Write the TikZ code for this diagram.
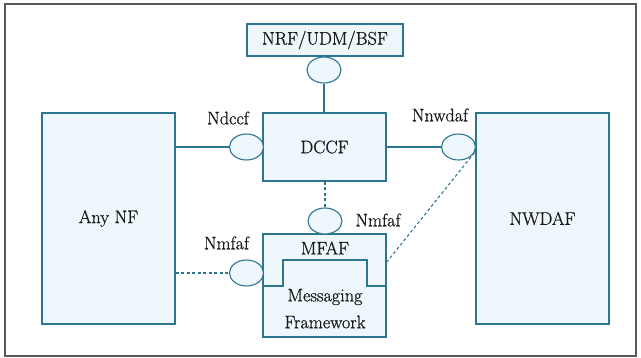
\documentclass[tikz,border=0pt]{standalone}
\usetikzlibrary{shapes.geometric}
\definecolor{edge}{RGB}{45,118,145}
\definecolor{boxfill}{RGB}{238,247,252}
\definecolor{txt}{RGB}{25,25,25}
\tikzset{
  nfbox/.style={draw=edge, fill=boxfill, line width=1.1pt, rectangle, inner sep=0pt, text=txt},
  port/.style={draw=edge, fill=boxfill, line width=1.1pt, ellipse, minimum width=34pt, minimum height=26pt, inner sep=0pt},
  conn/.style={draw=edge, line width=1.1pt},
  dconn/.style={draw=edge, line width=1.1pt, dash pattern=on 3pt off 2.5pt},
  lbl/.style={text=txt, inner sep=0pt},
}
\begin{document}
\begin{tikzpicture}[x=1pt,y=-1pt, font=\fontsize{18.2}{20}\selectfont\special{pdf:literal direct 2 Tr 0.15 w}]
\useasboundingbox (0,0) rectangle (641,357);
\draw[draw=black!65, line width=1.3pt] (5,4) rectangle (636,356);
% boxes
\node[nfbox, minimum width=133pt, minimum height=211pt] (anynf) at (108.5,218.5) {Any NF};
\node[nfbox, minimum width=156pt, minimum height=32pt] (nrf) at (325,40) {NRF/UDM/BSF};
\node[nfbox, minimum width=123pt, minimum height=68pt] (dccf) at (324.5,147) {DCCF};
\node[nfbox, minimum width=133pt, minimum height=211pt] (nwdaf) at (542.5,218.5) {NWDAF};
\node[nfbox, minimum width=123pt, minimum height=103pt] (mfaf) at (324.5,285.5) {};
\draw[conn] (263,286) coordinate (s1) -- (283,286) -- (283,260) -- (367,260) -- (367,286) -- (386,286) coordinate (s2);
\node[lbl] (mfaft) at (325,248) {MFAF};
\node[lbl] (msg) at (325,297) {Messaging};
\node[lbl] (fw) at (325,322) {Framework};
% ports
\node[port] (etop) at (324,70) {};
\node[port] (edccf) at (246.5,147) {};
\node[port] (enwdaf) at (458.5,147) {};
\node[port] (emtop) at (325,221) {};
\node[port] (emleft) at (246.5,273) {};
% labels
\node[lbl] (lndccf) at (228,118) {Ndccf};
\node[lbl] (lnnwdaf) at (440,115) {Nnwdaf};
\node[lbl] (lnmfaf1) at (378,220) {Nmfaf};
\node[lbl] (lnmfaf2) at (226.5,243) {Nmfaf};
% connectors
\draw[conn] (etop.south) -- (dccf.north -| etop.south);
\draw[conn] (anynf.east |- edccf.west) -- (edccf.west);
\draw[conn] (dccf.east |- enwdaf.west) -- (enwdaf.west);
\draw[dconn] (dccf.south -| emtop.north) -- (emtop.north);
\draw[dconn] (anynf.east |- emleft.west) -- (emleft.west);
\coordinate (mfr) at (386,263);
\draw[dconn] (enwdaf.-20) -- (mfr);
\end{tikzpicture}
\end{document}
